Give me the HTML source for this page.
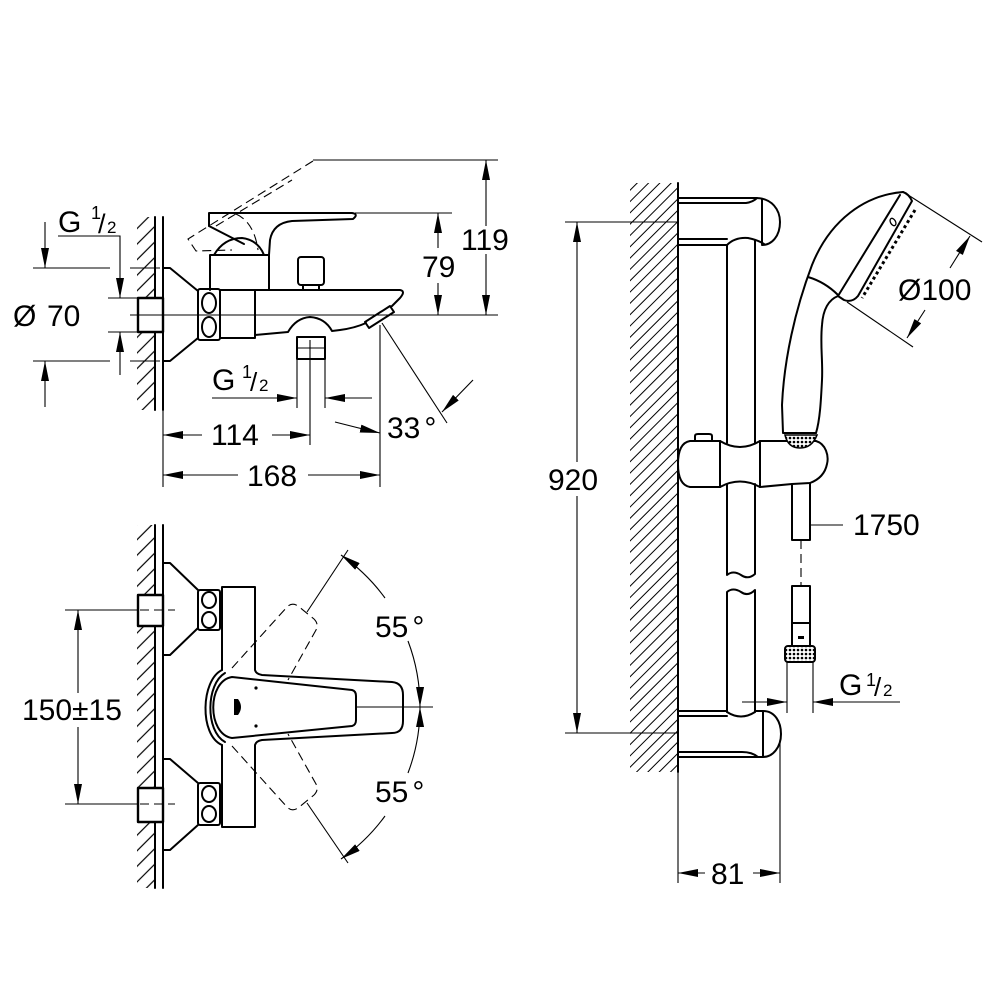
<!DOCTYPE html>
<html><head><meta charset="utf-8"><style>
html,body{margin:0;padding:0;background:#fff}
svg{display:block}
text{font-family:"Liberation Sans",Arial,sans-serif;font-size:30px;fill:#000}
.o{fill:none;stroke:#000;stroke-width:2;stroke-linejoin:round;stroke-linecap:round}
.w{fill:#fff;stroke:#000;stroke-width:2.4;stroke-linejoin:round}
.d{fill:none;stroke:#000;stroke-width:1.1}
.a{marker-end:url(#ar)}
.ds{stroke-dasharray:9 5}
</style></head><body>
<svg width="1000" height="1000" viewBox="0 0 1000 1000" xmlns="http://www.w3.org/2000/svg">
<defs>
<marker id="ar" viewBox="0 0 20 8" refX="20" refY="4" markerWidth="20" markerHeight="8" markerUnits="userSpaceOnUse" orient="auto"><path d="M0,0L20,4L0,8z" fill="#000"/></marker>
<pattern id="h1" patternUnits="userSpaceOnUse" width="11" height="11" patternTransform="rotate(45)"><line x1="5.5" y1="0" x2="5.5" y2="11" stroke="#000" stroke-width="1.2"/></pattern>
<pattern id="h2" patternUnits="userSpaceOnUse" width="8" height="8" patternTransform="rotate(45)"><line x1="4" y1="0" x2="4" y2="8" stroke="#000" stroke-width="1"/></pattern>
<pattern id="kn" patternUnits="userSpaceOnUse" width="4" height="4"><rect width="4" height="4" fill="#fff"/><circle cx="2" cy="2" r="1.3" fill="#000"/></pattern>
</defs>
<rect width="1000" height="1000" fill="#fff"/>

<!-- ================= TOP-LEFT: side view ================= -->
<rect x="137" y="217" width="18" height="193" fill="url(#h1)"/>
<line class="o" x1="155" y1="217" x2="155" y2="410"/>
<line class="o" x1="163" y1="217" x2="163" y2="410"/>
<line class="d" x1="163" y1="410" x2="163" y2="487"/>
<!-- escutcheon -->
<path class="o" d="M163,268 L170,268 L198,291 M198,338 L170,361 L163,361"/>
<!-- nut -->
<rect class="o" x="198" y="289" width="22" height="51" rx="2"/>
<ellipse class="o" cx="209" cy="303" rx="7" ry="10" stroke-width="1.6"/>
<ellipse class="o" cx="209" cy="327" rx="7" ry="10" stroke-width="1.6"/>
<!-- stub -->
<rect class="w" x="138" y="298" width="25" height="34"/>
<!-- body -->
<rect class="o" x="220" y="290" width="35" height="48"/>
<path class="o" d="M210,290 L210,255 L269,255 L269,290"/>
<path class="o" d="M255,290 L400,290 Q406,291 400,298 L392,306"/>
<path class="o" d="M255,335 L288,332 Q296,318 310,317 Q325,318 332,331 L340,330 Q355,328 366,323"/>
<path class="o" d="M365,322 L390,306 L394,312 L369,328 Z"/>
<!-- diverter knob -->
<rect class="o" x="298" y="257" width="26" height="28" rx="3"/>
<path class="o" d="M303,285 L303,290 M319,285 L319,290"/>
<!-- outlet stub -->
<rect class="o" x="297" y="337" width="28" height="22"/>
<line class="d" x1="297" y1="348" x2="325" y2="348"/>
<line class="d" x1="310" y1="340" x2="310" y2="445"/>
<!-- handle -->
<path class="o" d="M209,226 L209,213 L352,213 Q359,214 353,219 L292,221 Q273,223 270,240 L269,255"/>
<path class="o" d="M209,226 L244,244"/>
<path class="o" d="M214,255 Q224,238 242,238 Q258,240 264,255"/>
<path class="d ds" d="M313,161 L188,239 L196,251 L232,250"/>
<path class="d ds" d="M216,226 L292,180"/>
<path class="d ds" d="M236,214 Q254,222 258,250"/>
<!-- dims -->
<line class="d" x1="313" y1="160" x2="498" y2="160"/>
<line class="d" x1="355" y1="213" x2="452" y2="213"/>
<line class="d" x1="130" y1="315" x2="498" y2="315"/>
<path class="d a" d="M486,226 L486,160"/>
<path class="d a" d="M486,254 L486,315"/>
<path class="d a" d="M438,248 L438,213"/>
<path class="d a" d="M438,283 L438,315"/>
<text x="461" y="250">119</text>
<text x="422" y="277" font-size="31">79</text>
<!-- 33 deg -->
<line class="d" x1="382" y1="323" x2="447" y2="423"/>
<path class="d a" d="M473,380 L442,412"/>
<path class="d a" d="M335,422 Q358,428 380,433"/>
<line class="d" x1="380" y1="325" x2="380" y2="487"/>
<text x="387" y="438">33<tspan dx="4">°</tspan></text>
<!-- G1/2 middle -->
<path class="d a" d="M212,398 L297,398"/>
<path class="d a" d="M372,398 L325,398"/>
<line class="d" x1="297" y1="359" x2="297" y2="408"/>
<line class="d" x1="325" y1="359" x2="325" y2="408"/>
<text x="212" y="390" font-size="27">G<tspan x="242" y="378" font-size="18">1</tspan><tspan x="250" y="391" font-size="26">/</tspan><tspan x="259" y="391" font-size="17">2</tspan></text>
<!-- 114 / 168 -->
<path class="d a" d="M202,435 L163,435"/>
<path class="d a" d="M272,435 L310,435"/>
<text x="211" y="445">114</text>
<path class="d a" d="M238,475 L163,475"/>
<path class="d a" d="M308,475 L380,475"/>
<text x="247" y="486">168</text>
<!-- Ø70 -->
<line class="d" x1="33" y1="268" x2="110" y2="268"/><line class="d" x1="130" y1="268" x2="160" y2="268"/>
<line class="d" x1="33" y1="361" x2="110" y2="361"/><line class="d" x1="130" y1="361" x2="160" y2="361"/>
<path class="d a" d="M45,222 L45,268"/>
<path class="d a" d="M45,407 L45,361"/>
<text x="13" y="326">Ø<tspan x="47">70</tspan></text>
<!-- G1/2 left -->
<path class="d a" d="M58,236 L120,236 L120,298"/>
<path class="d a" d="M120,375 L120,332"/>
<line class="d" x1="108" y1="298" x2="138" y2="298"/>
<line class="d" x1="108" y1="332" x2="138" y2="332"/>
<text x="58" y="232" font-size="28">G<tspan x="91" y="219" font-size="18">1</tspan><tspan x="98" y="233" font-size="27">/</tspan><tspan x="107" y="233" font-size="17">2</tspan></text>

<!-- ================= BOTTOM-LEFT: front view ================= -->
<rect x="137" y="525" width="18" height="363" fill="url(#h1)"/>
<line class="o" x1="155" y1="525" x2="155" y2="888"/>
<line class="o" x1="163" y1="525" x2="163" y2="888"/>
<path class="o" d="M163,563 L170,563 L198,590 M198,628 L170,655 L163,655"/>
<rect class="o" x="198" y="590" width="22" height="40" rx="2"/>
<ellipse class="o" cx="209" cy="600" rx="7" ry="8" stroke-width="1.6"/>
<ellipse class="o" cx="209" cy="620" rx="7" ry="8" stroke-width="1.6"/>
<rect class="w" x="138" y="595" width="25" height="31"/>
<path class="o" d="M163,759 L170,759 L198,783 M198,825 L170,850 L163,850"/>
<rect class="o" x="198" y="783" width="22" height="42" rx="2"/>
<ellipse class="o" cx="209" cy="794" rx="7" ry="8" stroke-width="1.6"/>
<ellipse class="o" cx="209" cy="814" rx="7" ry="8" stroke-width="1.6"/>
<rect class="w" x="138" y="788" width="25" height="34"/>
<line class="d" x1="65" y1="610" x2="138" y2="610"/>
<line class="d" x1="65" y1="804" x2="138" y2="804"/>
<line class="d ds" x1="140" y1="610" x2="175" y2="610"/>
<line class="d ds" x1="140" y1="804" x2="175" y2="804"/>
<path class="d a" d="M78,693 L78,610"/>
<path class="d a" d="M78,727 L78,804"/>
<text x="22" y="720">150±15</text>
<!-- body bar -->
<path class="o" d="M222,670 L222,587 L255,587 L255,670 Q256,674 262,675 L392,682 Q403,683 403,695 L403,721 Q403,733 392,733 L262,740 Q256,741 255,745 L255,827 L222,827 L222,745"/>
<path class="o" d="M222,670 C201,680 199,735 222,745"/>
<path class="o" d="M225,673 C206,684 205,731 225,742"/>
<path class="o" d="M232,677 L352,690 Q356,691 356,696 L356,720 Q356,725 352,726 L232,738 C207,734 207,681 232,677 Z"/>
<path d="M234,699 L238,699 Q244,707 238,715 L234,715 Z" fill="#000"/>
<circle cx="256" cy="688" r="1.6" fill="#000"/>
<circle cx="256" cy="726" r="1.6" fill="#000"/>
<!-- dashed levers -->
<path class="d ds" d="M232,668 L287,607 Q292,602 298,606 L314,619 Q319,624 316,630 L288,680"/>
<path class="d ds" d="M232,746 L287,807 Q292,812 298,808 L314,795 Q319,790 316,784 L288,734"/>
<!-- angle dims -->
<line class="d" x1="307" y1="612" x2="348" y2="550"/>
<line class="d" x1="307" y1="803" x2="348" y2="863"/>
<line class="d" x1="355" y1="707" x2="433" y2="707"/>
<path class="d a" d="M385,598 A185,185 0 0,0 341,555"/>
<path class="d a" d="M408,641 A185,185 0 0,1 420,707"/>
<path class="d a" d="M385,816 A185,185 0 0,1 341,859"/>
<path class="d a" d="M408,773 A185,185 0 0,0 420,707"/>
<text x="375" y="637">55<tspan dx="4">°</tspan></text>
<text x="375" y="802">55<tspan dx="4">°</tspan></text>

<!-- ================= RIGHT: shower rail ================= -->
<rect x="630" y="183" width="48" height="589" fill="url(#h2)"/>
<line class="o" x1="678" y1="183" x2="678" y2="772"/>
<line class="d" x1="678" y1="772" x2="678" y2="883"/>
<!-- 920 -->
<line class="d" x1="565" y1="222" x2="678" y2="222"/>
<line class="d" x1="565" y1="733" x2="678" y2="733"/>
<path class="d a" d="M577,462 L577,222"/>
<path class="d a" d="M577,496 L577,733"/>
<text x="548" y="490">920</text>
<!-- top bracket -->
<path class="o" d="M678,198 L756,198 C772,198 780,210 780,222 C780,236 772,245 762,245"/>
<line class="o" x1="762" y1="199" x2="762" y2="244"/>
<path class="o" d="M678,203 L746,203 Q753,202 757,198"/>
<path class="o" d="M678,245 L727,245 M678,239 L727,239"/>
<path class="o" d="M727,245 Q735,237 748,238 Q758,240 764,244"/>
<!-- rail -->
<path class="o" d="M727,245 L727,443 M755,240 L755,443"/>
<path class="o" d="M727,484 L727,575 Q733,570 741,575 Q748,580 755,574 L755,484"/>
<path class="o" d="M727,712 L727,592 Q733,587 741,592 Q748,597 755,590 L755,712"/>
<!-- slider -->
<path class="o" d="M720,441 L690,441 Q678,443 678,464 Q678,485 690,487 L720,487"/>
<path class="o" d="M695,441 L695,436 Q695,434 698,434 L709,434 Q712,434 712,436 L712,441"/>
<line class="o" x1="720" y1="441" x2="720" y2="487" stroke-width="2.6"/>
<line class="o" x1="760" y1="441" x2="760" y2="487" stroke-width="2.6"/>
<path class="o" d="M720,441 Q740,453 760,441 M720,487 Q740,476 760,487"/>
<path class="o" d="M760,441 L816,441 C826,444 829,456 827,464 C825,474 818,480 810,483 L792,484 L760,487"/>
<!-- hose -->
<path class="o" d="M792,484 L792,540 L810,540 L810,483"/>
<line class="d ds" x1="801" y1="540" x2="801" y2="586"/>
<line class="d" x1="810" y1="525" x2="843" y2="525"/>
<text x="853" y="535">1750</text>
<rect class="o" x="792" y="586" width="18" height="37"/>
<rect class="o" x="792" y="623" width="18" height="23"/>
<rect x="798" y="636" width="6" height="3" fill="#000"/>
<rect x="785" y="646" width="30" height="16" rx="3" fill="url(#kn)" stroke="#000" stroke-width="2"/>
<line class="d" x1="787" y1="662" x2="787" y2="713"/>
<line class="d" x1="813" y1="662" x2="813" y2="713"/>
<path class="d a" d="M742,702 L787,702"/>
<path class="d a" d="M900,702 L813,702"/>
<text x="839" y="695" font-size="27">G<tspan x="866" y="686" font-size="18">1</tspan><tspan x="874" y="696" font-size="26">/</tspan><tspan x="883" y="696" font-size="17">2</tspan></text>
<!-- lower bracket -->
<path class="o" d="M678,711 L727,711 M755,711 L763,711 C775,711 781,722 781,734 C781,747 773,757 763,757 L678,757"/>
<line class="o" x1="763" y1="712" x2="763" y2="756"/>
<path class="o" d="M678,716 L727,716"/>
<path class="o" d="M727,712 Q741,721 755,712"/>
<path class="o" d="M678,752 L742,752 Q752,752 758,757"/>
<!-- 81 -->
<line class="d" x1="780" y1="740" x2="780" y2="883"/>
<path class="d a" d="M705,873 L678,873"/>
<path class="d a" d="M753,873 L780,873"/>
<text x="711" y="884">81</text>
<!-- hand shower -->
<path class="o" d="M903,192 C865,195 830,220 812,265 C795,310 784,360 782,405 L783,433 L816,433"/>
<path class="o" d="M838,296 C828,300 823,310 822,325 C820,345 823,360 822,380 C821,400 820,420 816,433"/>
<path d="M785,435 L817,435 Q812,448 800,448 Q788,448 785,435 Z" fill="url(#kn)" stroke="#000" stroke-width="1.6"/>
<path class="o" d="M808,277 Q825,282 838,295"/>
<path class="o" d="M903,192 Q909,194 912,201 L858,296 Q852,303 844,300 L838,296 L900,195"/>
<path d="M915,210 L862,298" fill="none" stroke="#000" stroke-width="3" stroke-dasharray="3 3"/>
<ellipse cx="893" cy="222" rx="2.5" ry="4" transform="rotate(-30 893 222)" fill="none" stroke="#000" stroke-width="1.3"/>
<!-- Ø100 -->
<line class="d" x1="905" y1="193" x2="982" y2="242"/>
<line class="d" x1="847" y1="302" x2="913" y2="347"/>
<path class="d a" d="M950,268 L970,236"/>
<path class="d a" d="M925,310 L907,338"/>
<text x="898" y="300">Ø100</text>
</svg>
</body></html>
